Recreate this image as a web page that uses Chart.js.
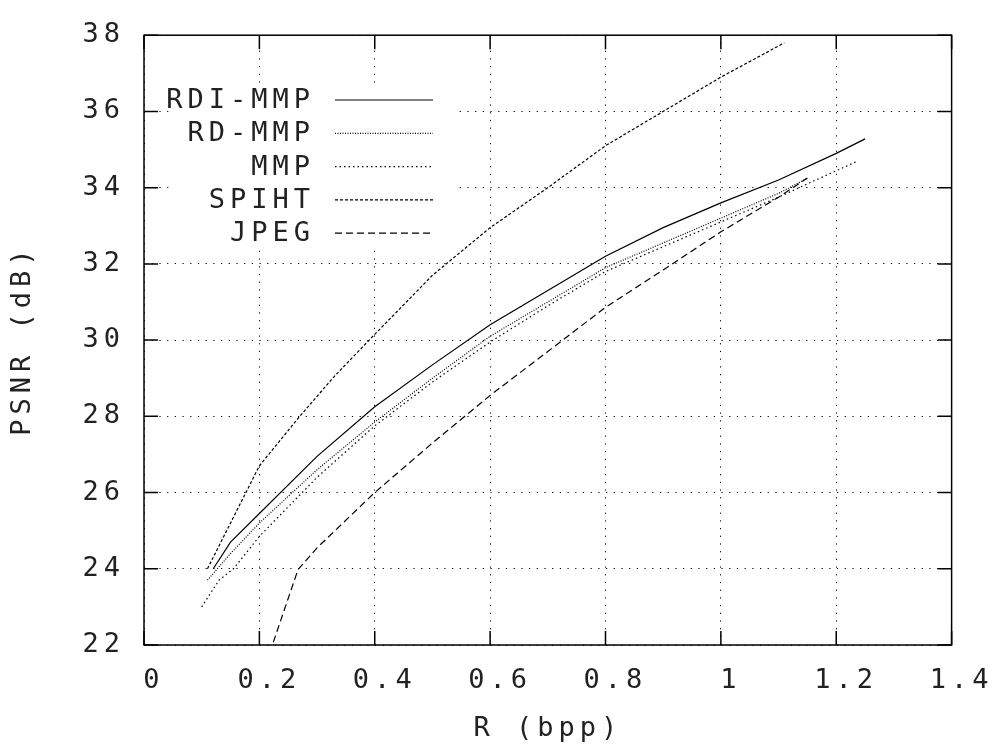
<!DOCTYPE html>
<html>
<head>
<meta charset="utf-8">
<script src="https://cdn.jsdelivr.net/npm/chart.js@4.4.1/dist/chart.umd.min.js"></script>
<style>
  html, body { margin: 0; padding: 0; background: #fff; }
  #wrap { width: 996px; height: 748px; }
</style>
</head>
<body>
<div id="wrap"><canvas id="psnr"></canvas></div>
<script>
// R (bpp) / PSNR (dB)
const rdiX = [0.12, 0.15, 0.2, 0.3, 0.4, 0.5, 0.6, 0.7, 0.8, 0.9, 1.0, 1.1, 1.2, 1.25];
const rdiY = [24.0, 24.7, 25.45, 26.95, 28.25, 29.35, 30.4, 31.3, 32.2, 32.95, 33.6, 34.2, 34.9, 35.28];

const rdX = [0.11, 0.15, 0.2, 0.3, 0.4, 0.5, 0.6, 0.7, 0.8, 0.9, 1.0, 1.1, 1.15];
const rdY = [23.7, 24.4, 25.2, 26.6, 27.85, 29.0, 30.1, 31.0, 31.9, 32.55, 33.2, 33.85, 34.25];

const mmpX = [0.1, 0.13, 0.155, 0.2, 0.3, 0.4, 0.5, 0.6, 0.7, 0.8, 0.9, 1.0, 1.1, 1.15, 1.236];
const mmpY = [23.0, 23.7, 24.0, 24.85, 26.4, 27.75, 28.9, 29.95, 30.9, 31.8, 32.45, 33.1, 33.75, 34.1, 34.69];

const spihtX = [0.11, 0.2, 0.27, 0.33, 0.4, 0.5, 0.6, 0.7, 0.8, 0.9, 1.0, 1.11];
const spihtY = [24.0, 26.7, 28.0, 29.05, 30.15, 31.7, 32.95, 34.0, 35.1, 36.0, 36.9, 37.8];

const jpegX = [0.218, 0.267, 0.3, 0.4, 0.5, 0.6, 0.7, 0.8, 0.9, 1.0, 1.1, 1.15];
const jpegY = [21.8, 23.98, 24.55, 26.0, 27.3, 28.55, 29.7, 30.86, 31.84, 32.84, 33.75, 34.25];

const names = ["RDI-MMP", "RD-MMP", "MMP", "SPIHT", "JPEG"];
const dashes = [[], [1, 1.5], [1.5, 3], [3, 2], [7, 4]];

const FONT = "'DejaVu Sans Mono', monospace";
const FSIZE = 27;
const SPACING = "5px";
const INK = "#222";

function pts(xs, ys) {
  return xs.map((x, i) => ({ x: x, y: ys[i] }));
}

const series = [pts(rdiX, rdiY), pts(rdX, rdY), pts(mmpX, mmpY), pts(spihtX, spihtY), pts(jpegX, jpegY)];

// frame + inward ticks on all four sides, like the old plot
const framePlugin = {
  id: "frame",
  beforeDraw(chart) {
    chart.ctx.letterSpacing = SPACING;
  },
  afterDraw(chart) {
    const { ctx, chartArea: a, scales } = chart;
    ctx.save();
    ctx.strokeStyle = "#000";
    ctx.lineWidth = 1.5;
    ctx.strokeRect(a.left, a.top, a.right - a.left, a.bottom - a.top);
    ctx.beginPath();
    scales.x.ticks.forEach((t) => {
      const px = scales.x.getPixelForValue(t.value);
      ctx.moveTo(px, a.bottom); ctx.lineTo(px, a.bottom - 14);
      ctx.moveTo(px, a.top); ctx.lineTo(px, a.top + 14);
    });
    scales.y.ticks.forEach((t) => {
      const py = scales.y.getPixelForValue(t.value);
      ctx.moveTo(a.left, py); ctx.lineTo(a.left + 14, py);
      ctx.moveTo(a.right, py); ctx.lineTo(a.right - 14, py);
    });
    ctx.stroke();
    ctx.restore();
  }
};

// legend sits inside the plot on a white patch
const legendPlugin = {
  id: "innerLegend",
  beforeDatasetsDraw(chart) {
    const { ctx } = chart;
    ctx.save();
    ctx.fillStyle = "#fff";
    ctx.fillRect(170, 84, 288, 164);
    ctx.font = FSIZE + "px " + FONT;
    ctx.letterSpacing = SPACING;
    ctx.textAlign = "right";
    ctx.textBaseline = "middle";
    ctx.fillStyle = INK;
    names.forEach((n, i) => {
      const y = 100 + i * 33.3;
      ctx.fillText(n, 315, y + 1);
      ctx.beginPath();
      ctx.setLineDash(dashes[i]);
      ctx.lineWidth = 1.2;
      ctx.strokeStyle = "#000";
      ctx.moveTo(335, y);
      ctx.lineTo(433, y);
      ctx.stroke();
    });
    ctx.restore();
  }
};

new Chart(document.getElementById("psnr").getContext("2d"), {
  type: "scatter",
  data: {
    datasets: series.map((d, i) => ({
      label: names[i],
      data: d,
      showLine: true,
      borderColor: "#000",
      borderWidth: 1.2,
      borderDash: dashes[i],
      pointRadius: 0,
      tension: 0,
      fill: false
    }))
  },
  options: {
    responsive: true,
    maintainAspectRatio: false,
    animation: false,
    events: [],
    layout: { padding: { top: 22, right: 43, left: 0, bottom: 0 } },
    plugins: {
      legend: { display: false },
      tooltip: { enabled: false }
    },
    scales: {
      x: {
        type: "linear",
        min: 0,
        max: 1.4,
        afterFit: (s) => { s.height = 103; },
        ticks: {
          stepSize: 0.2,
          padding: 20,
          labelOffset: 10,
          color: INK,
          font: { family: FONT, size: FSIZE },
          callback: (v) => String(Math.round(v * 10) / 10)
        },
        grid: { color: "#000", lineWidth: 1, drawTicks: false },
        border: { display: false, dash: [1.2, 6.5] },
        title: {
          display: true,
          text: "R (bpp)",
          color: INK,
          font: { family: FONT, size: FSIZE },
          padding: { top: 0, bottom: 3 }
        }
      },
      y: {
        min: 22,
        max: 38,
        afterFit: (s) => { s.width = 144; },
        ticks: {
          stepSize: 2,
          padding: 19,
          color: INK,
          font: { family: FONT, size: FSIZE }
        },
        grid: { color: "#000", lineWidth: 1, drawTicks: false },
        border: { display: false, dash: [1.2, 6.5] },
        title: {
          display: true,
          text: "PSNR (dB)",
          color: INK,
          font: { family: FONT, size: FSIZE },
          padding: { top: 7, bottom: 0 }
        }
      }
    }
  },
  plugins: [framePlugin, legendPlugin]
});
</script>
</body>
</html>
